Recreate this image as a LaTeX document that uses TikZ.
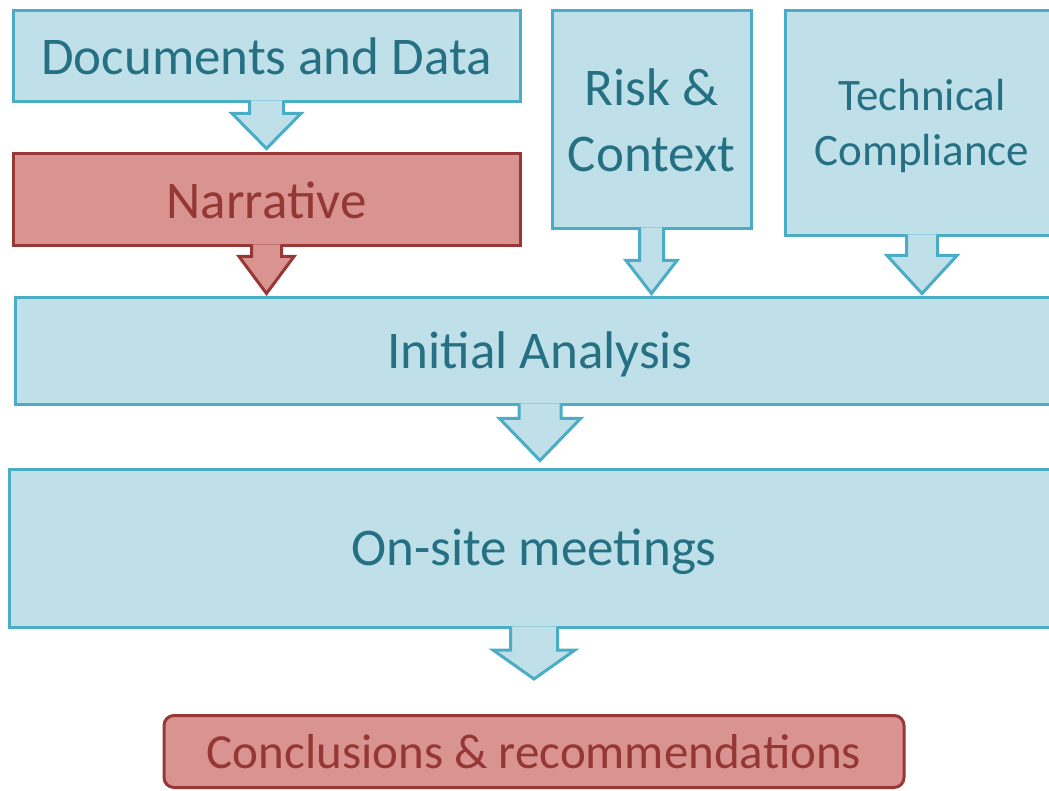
\documentclass[tikz,border=0pt]{standalone}
\usepackage{fontspec}
\setmainfont{Carlito}
\usetikzlibrary{calc}
\definecolor{bfill}{RGB}{191,224,232}
\definecolor{bline}{RGB}{75,172,198}
\definecolor{btext}{RGB}{38,112,132}
\definecolor{rfill}{RGB}{217,148,146}
\definecolor{rline}{RGB}{152,56,54}
\definecolor{rtext}{RGB}{149,55,53}
\newcommand\blockarrow[7]{%
  \path let \p1=(#2.south), \p2=(#3.north) in
    [#1] (\x1-#4pt,\y1+3.2pt) -- (\x1-#4pt,\y2+#7pt+#6pt) -- (\x1-#5pt,\y2+#7pt+#6pt)
    -- (\x1,\y2+#7pt) -- (\x1+#5pt,\y2+#7pt+#6pt) -- (\x1+#4pt,\y2+#7pt+#6pt) -- (\x1+#4pt,\y1+3.2pt);
}
\newcommand\lowertext[1]{\raisebox{-3pt}[\height][\depth]{#1}}
\begin{document}
\begin{tikzpicture}[x=1pt,y=1pt,
  bluebox/.style={draw=bline,fill=bfill,line width=3pt,text=btext,inner sep=0pt,align=center},
  redbox/.style={draw=rline,fill=rfill,line width=3pt,text=rtext,inner sep=0pt,align=center},
  bluearrow/.style={draw=bline,fill=bfill,line width=3pt},
  redarrow/.style={draw=rline,fill=rfill,line width=3pt}]
\useasboundingbox (0,0) rectangle (1049,790);
\clip (0,0) rectangle (1049,790);
\node[bluebox,minimum width=507pt,minimum height=91pt,font=\fontsize{53}{64}\selectfont] (docs) at (266.5,733.5) {Documents and Data};
\node[redbox,minimum width=507pt,minimum height=92pt,font=\fontsize{53}{64}\selectfont] (narr) at (266.5,590) {Narrative};
\node[bluebox,minimum width=199pt,minimum height=218pt,font=\fontsize{53}{66}\selectfont] (risk) at (651.5,670) {Risk \&\\Context};
\node[bluebox,minimum width=274pt,minimum height=225pt,font=\fontsize{45}{55}\selectfont] (tech) at (922,666.5) {\lowertext{Technical}\\\lowertext{Compliance}};
\node[bluebox,minimum width=1050pt,minimum height=107pt,font=\fontsize{53}{64}\selectfont] (init) at (540,438.5) {\lowertext{Initial Analysis}};
\node[bluebox,minimum width=1050pt,minimum height=158pt,font=\fontsize{53}{66}\selectfont] (onsite) at (534,241) {\lowertext{On-site meetings}};
\node[redbox,rounded corners=10pt,minimum width=740pt,minimum height=72pt,font=\fontsize{49}{58}\selectfont] (concl) at (534,38.5) {Conclusions \& recommendations};
\blockarrow{bluearrow}{docs}{narr}{17}{34.5}{35}{4}
\blockarrow{redarrow}{narr}{init}{15}{27.5}{37}{3}
\blockarrow{bluearrow}{risk}{init}{12}{25.5}{33}{3}
\blockarrow{bluearrow}{tech}{init}{15.5}{35}{38}{3}
\blockarrow{bluearrow}{init}{onsite}{21}{40.5}{42}{8}
\blockarrow{bluearrow}{onsite}{concl}{23.5}{41}{29}{35}
\end{tikzpicture}
\end{document}
